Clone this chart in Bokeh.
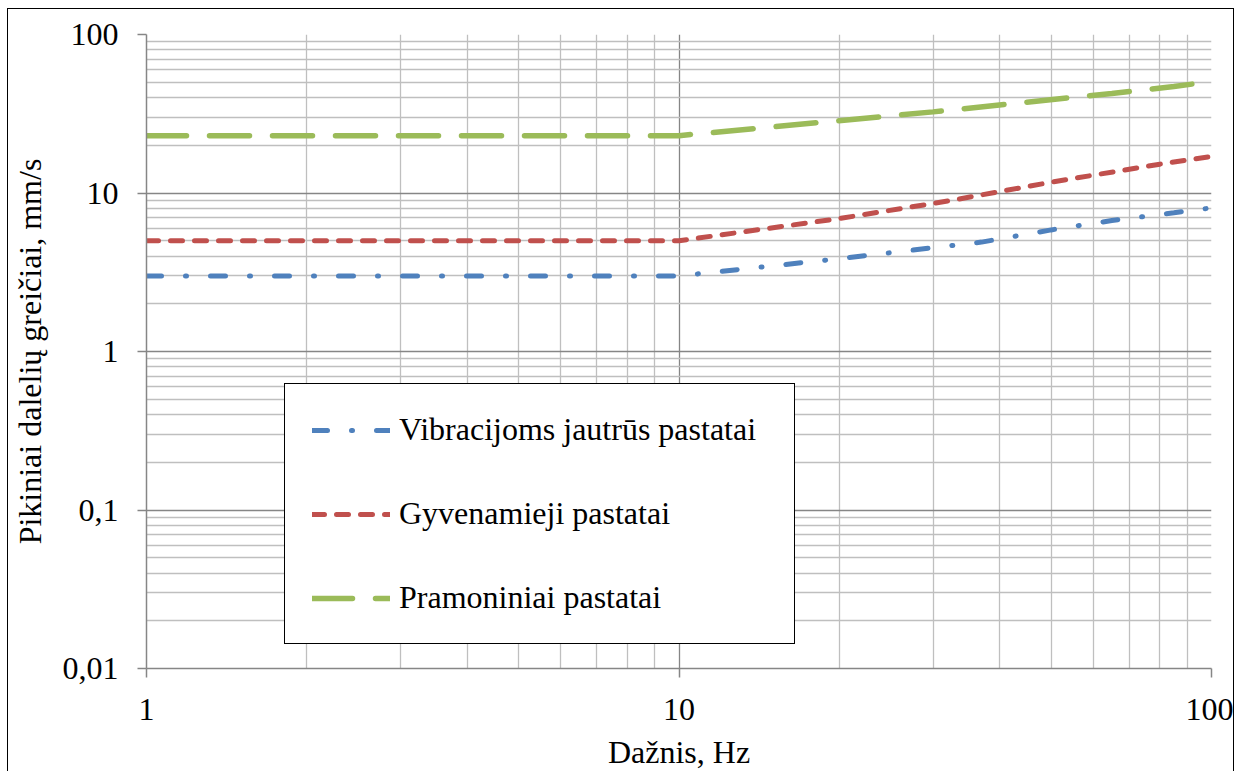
from bokeh.plotting import figure
from bokeh.models import Range1d, FixedTicker, Legend, LegendItem
from bokeh.embed import file_html
from bokeh.resources import INLINE

# ---- data ----
freq_vib = [1, 10, 20, 37, 50, 65, 85, 100]
vel_vib = [3, 3, 3.85, 4.9, 5.85, 6.7, 7.5, 8.05]

freq_res = [1, 10, 20, 32, 50, 80, 100]
vel_res = [5, 5, 6.9, 8.9, 11.7, 15.2, 17]

freq_ind = [1, 10, 30, 65, 85, 100]
vel_ind = [23, 23, 32.5, 42.5, 47, 50.5]

series_names = ["Vibracijoms jautrūs pastatai", "Gyvenamieji pastatai", "Pramoniniai pastatai"]

x_major = [1, 10, 100]
x_minor = [2, 3, 4, 5, 6, 7, 8, 9, 20, 30, 40, 50, 60, 70, 80, 90]
y_major = [0.01, 0.1, 1, 10, 100]
y_minor = [m * d for d in [0.01, 0.1, 1, 10] for m in range(2, 10)]
x_labels = {1: "1", 10: "10", 100: "100"}
y_labels = {0.01: "0,01", 0.1: "0,1", 1: "1", 10: "10", 100: "100"}

x_title = "Dažnis, Hz"
y_title = "Pikiniai dalelių greičiai, mm/s"

FONT = "Liberation Serif"
MAJOR = "#868686"
MINOR = "#bfbfbf"

p = figure(width=1227, height=763, x_axis_type="log", y_axis_type="log",
           x_range=Range1d(1, 100), y_range=Range1d(0.01, 100),
           output_backend="svg", toolbar_location=None,
           min_border_left=136, min_border_right=24, min_border_top=25, min_border_bottom=103)
p.styles = {"margin-left": "7px", "margin-top": "8px",
            "border-left": "1.5px solid black", "border-top": "1.5px solid black",
            "border-right": "1.5px solid black"}
p.outline_line_color = None
p.background_fill_color = "white"
p.border_fill_color = "white"

p.xaxis.ticker = FixedTicker(ticks=x_major, minor_ticks=x_minor)
p.yaxis.ticker = FixedTicker(ticks=y_major, minor_ticks=y_minor)
p.xaxis.major_label_overrides = x_labels
p.yaxis.major_label_overrides = y_labels

for ax in (p.xaxis, p.yaxis):
    ax.axis_line_color = MAJOR
    ax.axis_line_width = 1.5
    ax.major_tick_line_color = MAJOR
    ax.major_tick_line_width = 1.5
    ax.major_tick_out = 9
    ax.major_tick_in = 0
    ax.minor_tick_out = 0
    ax.minor_tick_in = 0
    ax.major_label_text_font = FONT
    ax.major_label_text_font_size = "32px"
    ax.major_label_text_color = "black"
    ax.axis_label_text_font = FONT
    ax.axis_label_text_font_size = "32px"
    ax.axis_label_text_font_style = "normal"
    ax.axis_label_text_color = "black"

p.xaxis.axis_label = x_title
p.yaxis.axis_label = y_title
p.xaxis.major_label_standoff = 21
p.yaxis.major_label_standoff = 19
p.xaxis.axis_label_standoff = 11
p.yaxis.axis_label_standoff = 12

for g in (p.xgrid, p.ygrid):
    g.grid_line_color = MAJOR
    g.grid_line_width = 1.3
    g.minor_grid_line_color = MINOR
    g.minor_grid_line_width = 1.3

r_vib = p.line(freq_vib, vel_vib, line_color="#4f81bd", line_width=5, line_cap="round",
               line_dash="15 24 1 24")
r_res = p.line(freq_res, vel_res, line_color="#c0504d", line_width=5, line_cap="round",
               line_dash="12 12")
r_ind = p.line(freq_ind, vel_ind, line_color="#9bbb59", line_width=5.5, line_cap="round",
               line_dash="40 23")

legend = Legend(items=[LegendItem(label=series_names[0], renderers=[r_vib]),
                       LegendItem(label=series_names[1], renderers=[r_res]),
                       LegendItem(label=series_names[2], renderers=[r_ind])],
                location=(138, 24), padding=27, glyph_width=78, glyph_height=36,
                label_height=36, label_standoff=9, label_width=368, spacing=47,
                border_line_color="black", border_line_width=1.5, border_line_alpha=1,
                background_fill_color="white", background_fill_alpha=1,
                label_text_font=FONT, label_text_font_size="32px", label_text_color="black",
                margin=0)
p.add_layout(legend)

open("out.html", "w").write(file_html(p, INLINE))
